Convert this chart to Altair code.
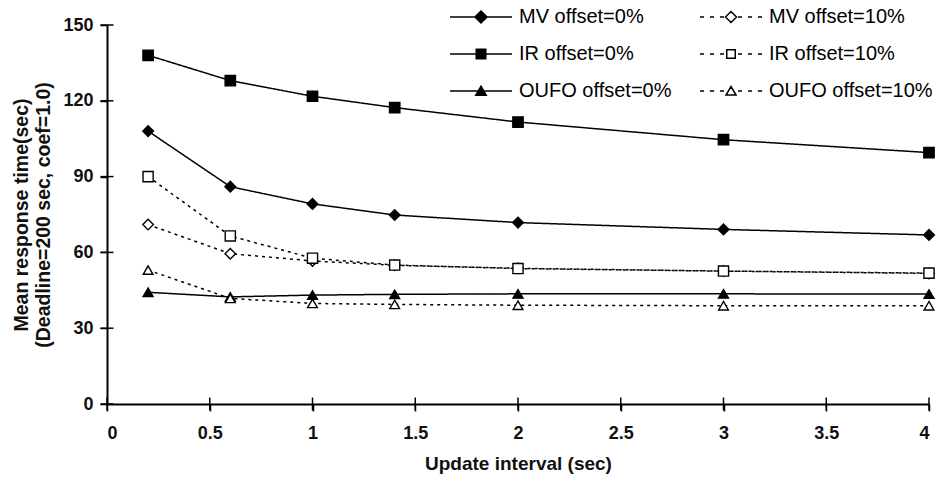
import altair as alt
import pandas as pd

# Update interval (sec) at which each configuration was measured
interval = [0.2, 0.6, 1.0, 1.4, 2.0, 3.0, 4.0]

# Mean response time (sec) per strategy and offset
mv_0 = [108.0, 86.0, 79.2, 74.8, 71.8, 69.1, 66.9]
mv_10 = [71.0, 59.5, 56.6, 54.9, 53.7, 52.6, 51.7]
ir_0 = [138.0, 128.0, 121.8, 117.3, 111.6, 104.6, 99.5]
ir_10 = [90.0, 66.5, 57.7, 55.0, 53.6, 52.6, 51.8]
oufo_0 = [44.2, 42.4, 43.1, 43.4, 43.6, 43.6, 43.5]
oufo_10 = [53.0, 41.8, 39.8, 39.4, 39.1, 38.9, 38.9]

series_names = [
    "MV offset=0%", "MV offset=10%",
    "IR offset=0%", "IR offset=10%",
    "OUFO offset=0%", "OUFO offset=10%",
]
series_values = [mv_0, mv_10, ir_0, ir_10, oufo_0, oufo_10]

x_ticks = [0, 0.5, 1, 1.5, 2, 2.5, 3, 3.5, 4]
y_ticks = [0, 30, 60, 90, 120, 150]

# Marker styling per series
marker_shapes = ["diamond", "diamond", "square", "square", "triangle-up", "triangle-up"]
marker_fills = ["black", "white", "black", "white", "black", "white"]
marker_sizes = [115, 95, 130, 70, 110, 95]
line_dashes = [[1, 0], [3, 4], [1, 0], [3, 4], [1, 0], [3, 4]]

# Legend glyphs: a line (solid or dashed) with the marker in its middle.
# Units are 5 px (symbolSize 100); the glyph starts at the symbol anchor.
solid = "M0,0H12.4"
dashed = "M0,0H0.8M2,0H2.8M4,0H4.8M7.6,0H8.4M9.6,0H10.4M11.6,0H12.4"
legend_glyphs = [
    solid + "M6.2,-1.2L7.4,0L6.2,1.2L5,0Z",
    dashed + "M6.2,-1.1L7.3,0L6.2,1.1L5.1,0Z",
    solid + "M5.25,-0.95H7.15V0.95H5.25Z",
    dashed + "M5.35,-0.85H7.05V0.85H5.35Z",
    solid + "M6.2,-0.95L7.25,0.85L5.15,0.85Z",
    dashed + "M6.2,-0.9L7.2,0.8L5.2,0.8Z",
]

rows = []
for name, values in zip(series_names, series_values):
    for x, v in zip(interval, values):
        rows.append({"interval": x, "response": v, "series": name})
df = pd.DataFrame(rows)

x_tick_df = pd.DataFrame({"interval": x_ticks})
y_tick_df = pd.DataFrame({"response": y_ticks})

FONT = "Liberation Sans"
PLOT_W = 822
PLOT_H = 379

x_scale = alt.Scale(domain=[0, 4], nice=False, zero=False)
y_scale = alt.Scale(domain=[0, 150], nice=False)

x_enc = alt.X(
    "interval:Q",
    scale=x_scale,
    axis=alt.Axis(
        orient="bottom", values=x_ticks, format="~g", title="Update interval (sec)",
        grid=False, tickSize=7, labelPadding=13, titlePadding=12, titleFontSize=19,
    ),
)
y_enc = alt.Y(
    "response:Q",
    scale=y_scale,
    axis=alt.Axis(
        orient="left", values=y_ticks,
        title=["Mean response time(sec)", "(Deadline=200 sec, coef=1.0)"],
        grid=False, tickSize=7, labelPadding=7, titlePadding=9,
        titleLineHeight=22, titleFontSize=19.5,
    ),
)

lines = alt.Chart(df).mark_line(color="black", strokeWidth=1.5).encode(
    x=x_enc,
    y=y_enc,
    detail="series:N",
    strokeDash=alt.StrokeDash(
        "series:N", scale=alt.Scale(domain=series_names, range=line_dashes), legend=None
    ),
    order="interval:Q",
)

points = alt.Chart(df).mark_point(
    filled=False, stroke="black", strokeWidth=1.4, opacity=1
).encode(
    x=x_enc,
    y=y_enc,
    shape=alt.Shape("series:N", scale=alt.Scale(domain=series_names, range=marker_shapes), legend=None),
    fill=alt.Fill("series:N", scale=alt.Scale(domain=series_names, range=marker_fills), legend=None),
    size=alt.Size("series:N", scale=alt.Scale(domain=series_names, range=marker_sizes), legend=None),
)

legend_spec = dict(
    title=None,
    orient="none",
    legendX=333,
    legendY=-18,
    direction="horizontal",
    columns=2,
    padding=0,
    labelFont=FONT,
    labelFontSize=20,
    labelColor="black",
    labelOffset=59,
    labelLimit=300,
    rowPadding=17,
    columnPadding=18,
    symbolSize=100,
    symbolStrokeColor="black",
    symbolStrokeWidth=1.5,
    symbolOpacity=1,
)

legend_layer = alt.Chart(df).mark_point(
    filled=False, strokeWidth=1.5, opacity=0
).encode(
    x=x_enc,
    y=y_enc,
    shape=alt.Shape(
        "series:N", scale=alt.Scale(domain=series_names, range=legend_glyphs),
        legend=alt.Legend(**legend_spec),
    ),
    fill=alt.Fill(
        "series:N", scale=alt.Scale(domain=series_names, range=marker_fills),
        legend=alt.Legend(**legend_spec),
    ),
    stroke=alt.Stroke(
        "series:N", scale=alt.Scale(domain=series_names, range=["black"] * len(series_names)),
        legend=alt.Legend(**legend_spec),
    ),
)

# Tick marks that cross the axis lines
x_cross = alt.Chart(x_tick_df).mark_tick(
    orient="vertical", color="black", size=13, thickness=1.5, opacity=1
).encode(
    x=alt.X("interval:Q", scale=x_scale),
    y=alt.value(PLOT_H),
)
y_cross = alt.Chart(y_tick_df).mark_tick(
    orient="horizontal", color="black", size=13, thickness=1.5, opacity=1
).encode(
    y=alt.Y("response:Q", scale=y_scale),
    x=alt.value(0),
)

chart = (
    alt.layer(lines, points, x_cross, y_cross, legend_layer)
    .resolve_scale(shape="independent", fill="independent", stroke="independent")
    .properties(
        width=PLOT_W,
        height=PLOT_H,
        padding={"left": 107, "top": 25, "right": 10, "bottom": 76},
        autosize=alt.AutoSizeParams(type="none"),
        background="white",
    )
    .configure_view(stroke=None)
    .configure_axis(
        domainColor="black",
        domainWidth=2,
        tickColor="black",
        tickWidth=1.5,
        labelFont=FONT,
        labelFontSize=18,
        labelFontWeight="bold",
        labelColor="#111111",
        titleFont=FONT,
        titleFontWeight="bold",
        titleColor="#111111",
    )
)

chart.save("out.html", embed_options={"renderer": "svg", "actions": False})
